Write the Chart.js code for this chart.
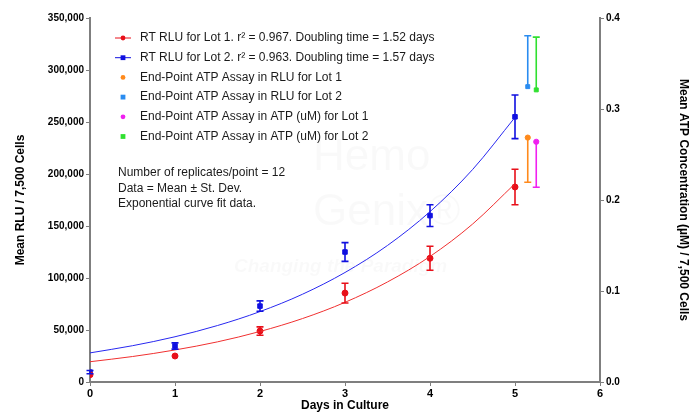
<!DOCTYPE html>
<html>
<head>
<meta charset="utf-8">
<script src="https://cdn.jsdelivr.net/npm/chart.js@4"></script>
<style>
  body { margin: 0; background: #fff; }
</style>
</head>
<body>
<canvas id="grafico" width="698" height="413"></canvas>
<script>
// Datos
const days = [0, 1, 2, 3, 4, 5];
const lot1Rlu = [7000, 25000, 49000, 85500, 119000, 187500];
const lot1Sd = [0, 0, 4000, 9500, 11500, 17000];
const lot2Rlu = [9500, 34600, 73000, 125000, 160000, 255000];
const lot2Sd = [1500, 3000, 5000, 9000, 10500, 21000];

// Curvas de ajuste exponencial
const fitDays = [0, 0.5, 1, 1.5, 2, 2.5, 3, 3.5, 4, 4.5, 5];
const lot1Fit = [19500, 24500, 30800, 38600, 48600, 61000, 76600, 96200, 120700, 151800, 190700];
const lot2Fit = [28000, 34900, 43500, 54300, 67700, 84400, 105300, 131300, 163800, 204200, 254500];

// Ensayos de punto final
const endRluDay = 5.15;
const endAtpDay = 5.25;
const endRluLot1 = [235000];
const endRluLot1Low = [192000];
const endRluLot2 = [284000];
const endRluLot2High = [333000];
const endAtpLot1 = [0.264];
const endAtpLot1Low = [0.214];
const endAtpLot2 = [0.321];
const endAtpLot2High = [0.379];

const yTicks = [0, 50000, 100000, 150000, 200000, 250000, 300000, 350000];
const y2Ticks = [0, 0.1, 0.2, 0.3, 0.4];

const legendItems = [
  { text: 'RT RLU for Lot 1. r² = 0.967. Doubling time = 1.52 days', color: '#e8101a', style: 'circle', line: true },
  { text: 'RT RLU for Lot 2. r² = 0.963. Doubling time = 1.57 days', color: '#1010e0', style: 'rect', line: true },
  { text: 'End-Point ATP Assay in RLU for Lot 1', color: '#ff8a1c', style: 'circle', line: false },
  { text: 'End-Point ATP Assay in RLU for Lot 2', color: '#2a8cf0', style: 'rect', line: false },
  { text: 'End-Point ATP Assay in ATP (uM) for Lot 1', color: '#f020f0', style: 'circle', line: false },
  { text: 'End-Point ATP Assay in ATP (uM) for Lot 2', color: '#30e030', style: 'rect', line: false }
];
const notes = ['Number of replicates/point = 12', 'Data = Mean ± St. Dev.', 'Exponential curve fit data.'];

const FONT = 'Arial, "Liberation Sans", sans-serif';
const AXIS_GRAY = '#7f7f7f';

const pts = (xs, ys) => xs.map((x, i) => ({ x: x, y: ys[i] }));

// Barras de error: low/high por punto
const errorBars = {
  id: 'errorBars',
  afterDatasetsDraw(chart) {
    const ctx = chart.ctx;
    chart.data.datasets.forEach((ds, di) => {
      if (!ds.errLow) return;
      const meta = chart.getDatasetMeta(di);
      const scale = chart.scales[ds.yAxisID || 'y'];
      ctx.save();
      ctx.strokeStyle = ds.borderColor;
      ctx.lineWidth = 1.6;
      meta.data.forEach((el, i) => {
        const lo = ds.errLow[i], hi = ds.errHigh[i];
        if (lo == null || hi == null || lo === hi) return;
        const yLo = scale.getPixelForValue(lo);
        const yHi = scale.getPixelForValue(hi);
        const x = el.x;
        ctx.beginPath();
        ctx.moveTo(x, yLo); ctx.lineTo(x, yHi);
        if (ds.capLow !== false) { ctx.moveTo(x - 3.5, yLo); ctx.lineTo(x + 3.5, yLo); }
        if (ds.capHigh !== false) { ctx.moveTo(x - 3.5, yHi); ctx.lineTo(x + 3.5, yHi); }
        ctx.stroke();
      });
      ctx.restore();
    });
  }
};

// Marca de agua, leyenda y notas
const extras = {
  id: 'extras',
  beforeDatasetsDraw(chart) {
    const ctx = chart.ctx;
    const a = chart.chartArea;
    ctx.save();
    ctx.fillStyle = 'rgba(0,0,0,0.022)';
    ctx.font = '44px ' + FONT;
    ctx.fillText('Hemo', a.left + 223, a.top + 152);
    ctx.fillText('Genix®', a.left + 223, a.top + 207);
    ctx.font = 'italic bold 19px ' + FONT;
    ctx.fillText('Changing the Paradigm', a.left + 144, a.top + 254);
    ctx.restore();
  },
  afterDraw(chart) {
    const ctx = chart.ctx;
    const a = chart.chartArea;
    ctx.save();
    ctx.font = '12px ' + FONT;
    ctx.textBaseline = 'middle';
    legendItems.forEach((it, i) => {
      const y = a.top + 20 + i * 19.7;
      const cx = a.left + 33;
      ctx.fillStyle = it.color;
      ctx.strokeStyle = it.color;
      if (it.line) {
        ctx.lineWidth = 1;
        ctx.beginPath(); ctx.moveTo(cx - 8, y); ctx.lineTo(cx + 8, y); ctx.stroke();
      }
      if (it.style === 'circle') {
        ctx.beginPath(); ctx.arc(cx, y, 2.4, 0, Math.PI * 2); ctx.fill();
      } else {
        ctx.fillRect(cx - 2.4, y - 2.4, 4.8, 4.8);
      }
      ctx.fillStyle = '#1a1a1a';
      ctx.fillText(it.text, a.left + 50, y);
    });
    notes.forEach((t, i) => {
      ctx.fillText(t, a.left + 28, a.top + 155 + i * 15.5);
    });
    ctx.restore();
  }
};

new Chart(document.getElementById('grafico'), {
  type: 'scatter',
  data: {
    datasets: [
      {
        type: 'line', label: 'fit1', data: pts(fitDays, lot1Fit),
        borderColor: '#f03030', borderWidth: 1, pointRadius: 0, fill: false,
        cubicInterpolationMode: 'monotone'
      },
      {
        type: 'line', label: 'fit2', data: pts(fitDays, lot2Fit),
        borderColor: '#2828f0', borderWidth: 1, pointRadius: 0, fill: false,
        cubicInterpolationMode: 'monotone'
      },
      {
        label: 'lot1', data: pts(days, lot1Rlu),
        borderColor: '#e8101a', backgroundColor: '#e8101a', pointStyle: 'circle', pointRadius: 3,
        errLow: lot1Rlu.map((v, i) => v - lot1Sd[i]), errHigh: lot1Rlu.map((v, i) => v + lot1Sd[i])
      },
      {
        label: 'lot2', data: pts(days, lot2Rlu),
        borderColor: '#1010e0', backgroundColor: '#1010e0', pointStyle: 'rect', pointRadius: 3.2,
        errLow: lot2Rlu.map((v, i) => v - lot2Sd[i]), errHigh: lot2Rlu.map((v, i) => v + lot2Sd[i])
      },
      {
        label: 'endRlu1', data: pts([endRluDay], endRluLot1),
        borderColor: '#ff8a1c', backgroundColor: '#ff8a1c', pointStyle: 'circle', pointRadius: 2.6,
        errLow: endRluLot1Low, errHigh: endRluLot1, capHigh: false
      },
      {
        label: 'endRlu2', data: pts([endRluDay], endRluLot2),
        borderColor: '#2a8cf0', backgroundColor: '#2a8cf0', pointStyle: 'rect', pointRadius: 2.8,
        errLow: endRluLot2, errHigh: endRluLot2High, capLow: false
      },
      {
        label: 'endAtp1', data: pts([endAtpDay], endAtpLot1), yAxisID: 'y2',
        borderColor: '#f020f0', backgroundColor: '#f020f0', pointStyle: 'circle', pointRadius: 2.6,
        errLow: endAtpLot1Low, errHigh: endAtpLot1, capHigh: false
      },
      {
        label: 'endAtp2', data: pts([endAtpDay], endAtpLot2), yAxisID: 'y2',
        borderColor: '#30e030', backgroundColor: '#30e030', pointStyle: 'rect', pointRadius: 2.8,
        errLow: endAtpLot2, errHigh: endAtpLot2High, capLow: false
      }
    ]
  },
  options: {
    responsive: false,
    animation: false,
    layout: { padding: { top: 18, left: 0, right: 0, bottom: 0 } },
    plugins: { legend: { display: false }, tooltip: { enabled: false } },
    scales: {
      x: {
        type: 'linear', min: 0, max: 6,
        ticks: { stepSize: 1, color: '#000', font: { family: FONT, size: 11, weight: 'bold' }, padding: 1 },
        grid: { drawOnChartArea: false, color: AXIS_GRAY, tickLength: 4 },
        border: { color: AXIS_GRAY, width: 2 },
        title: { display: true, text: 'Days in Culture', color: '#000', font: { family: FONT, size: 12, weight: 'bold' }, padding: { top: 0, bottom: 0 } },
        afterFit(scale) { scale.height = 31; }
      },
      y: {
        type: 'linear', position: 'left', min: 0, max: 350000,
        afterBuildTicks(scale) { scale.ticks = yTicks.map(v => ({ value: v })); },
        ticks: { color: '#000', font: { family: FONT, size: 10, weight: 'bold' }, padding: 2,
          callback: v => v.toLocaleString('en-US') },
        grid: { drawOnChartArea: false, color: AXIS_GRAY, tickLength: 4 },
        border: { color: AXIS_GRAY, width: 2 },
        title: { display: true, text: 'Mean RLU / 7,500 Cells', color: '#000', font: { family: FONT, size: 12, weight: 'bold' }, padding: { top: 13, bottom: 0 } },
        afterFit(scale) { scale.width = 90; }
      },
      y2: {
        type: 'linear', position: 'right', min: 0, max: 0.4,
        afterBuildTicks(scale) { scale.ticks = y2Ticks.map(v => ({ value: v })); },
        ticks: { color: '#000', font: { family: FONT, size: 10, weight: 'bold' }, padding: 2,
          callback: v => v.toFixed(1) },
        grid: { drawOnChartArea: false, color: AXIS_GRAY, tickLength: 4 },
        border: { color: AXIS_GRAY, width: 2 },
        title: { display: true, text: 'Mean ATP Concentration (µM) / 7,500 Cells', color: '#000', font: { family: FONT, size: 12, weight: 'bold' }, padding: { top: 7, bottom: 0 } },
        afterFit(scale) { scale.width = 98; }
      }
    }
  },
  plugins: [errorBars, extras]
});
</script>
</body>
</html>
